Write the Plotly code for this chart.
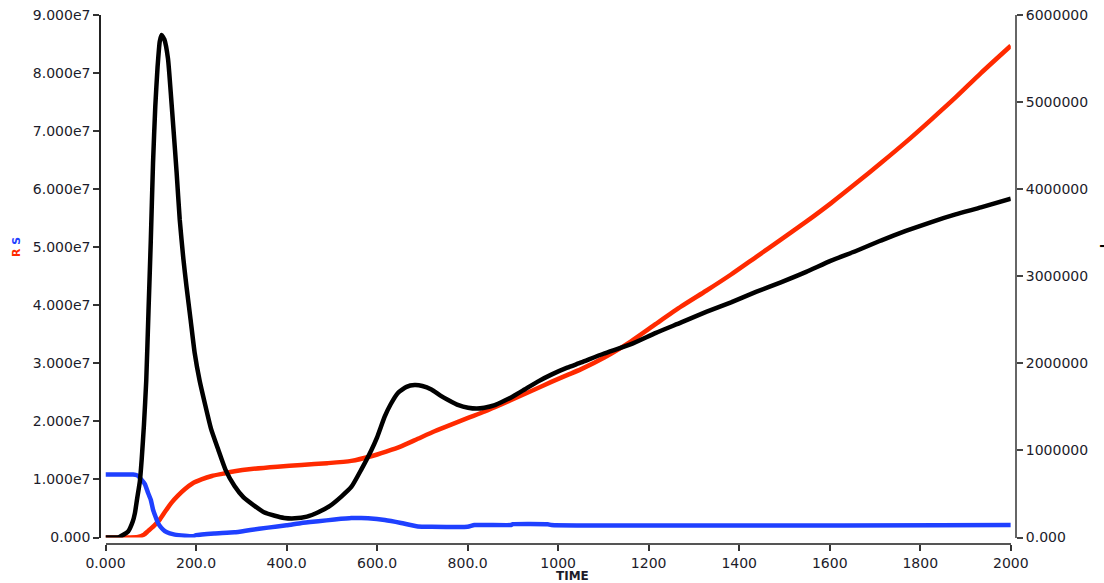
import plotly.graph_objects as go

# ---- data ----
# I (black, right axis)
i_time = [0, 30, 50, 60, 65, 70, 76, 80, 85, 90, 95, 100, 105, 110, 115, 120, 124, 130, 138,
          145, 150, 157, 164, 172, 179, 188, 197, 208, 219, 233, 249, 265, 285, 305, 330, 350,
          374, 395, 418, 445, 470, 495, 521, 543, 565, 587, 600, 617, 630, 646, 665, 683, 700,
          720, 740, 757, 780, 801, 820, 837, 860, 881, 900, 926, 955, 985, 1020, 1051, 1100,
          1161, 1216, 1272, 1327, 1382, 1437, 1492, 1548, 1603, 1658, 1713, 1768, 1823, 1878,
          1934, 2000]
i_vals = [0, 5e3, 7e4, 1.8e5, 2.8e5, 4.5e5, 6.5e5, 9e5, 1.3e6, 1.8e6, 2.6e6, 3.4e6, 4.3e6,
          4.95e6, 5.4e6, 5.7e6, 5.77e6, 5.72e6, 5.5e6, 5.05e6, 4.7e6, 4.2e6, 3.65e6, 3.2e6,
          2.88e6, 2.5e6, 2.12e6, 1.8e6, 1.55e6, 1.25e6, 1.01e6, 7.8e5, 5.9e5, 4.6e5, 3.6e5,
          2.9e5, 2.5e5, 2.25e5, 2.2e5, 2.4e5, 2.9e5, 3.6e5, 4.7e5, 5.8e5, 7.8e5, 1.0e6, 1.15e6,
          1.39e6, 1.53e6, 1.66e6, 1.73e6, 1.75e6, 1.74e6, 1.70e6, 1.63e6, 1.58e6, 1.52e6,
          1.49e6, 1.48e6, 1.49e6, 1.52e6, 1.57e6, 1.62e6, 1.70e6, 1.79e6, 1.87e6, 1.95e6,
          2.01e6, 2.11e6, 2.22e6, 2.35e6, 2.47e6, 2.59e6, 2.70e6, 2.82e6, 2.93e6, 3.05e6,
          3.18e6, 3.29e6, 3.41e6, 3.52e6, 3.62e6, 3.71e6, 3.79e6, 3.89e6]

# R (red, left axis)
r_time = [0, 40, 72, 85, 94, 107, 120, 133, 146, 160, 175, 192, 212, 235, 260, 285, 322, 380,
          433, 490, 543, 587, 620, 653, 690, 727, 765, 801, 838, 874, 911, 948, 985, 1021,
          1051, 1102, 1161, 1216, 1272, 1327, 1382, 1437, 1492, 1548, 1603, 1658, 1713, 1768,
          1823, 1878, 1934, 2000]
r_vals = [0, 0, 1e5, 5e5, 1.1e6, 2.0e6, 3.1e6, 4.6e6, 6.0e6, 7.2e6, 8.3e6, 9.3e6, 1.0e7,
          1.06e7, 1.1e7, 1.14e7, 1.18e7, 1.22e7, 1.25e7, 1.28e7, 1.32e7, 1.40e7, 1.48e7,
          1.57e7, 1.70e7, 1.83e7, 1.95e7, 2.06e7, 2.17e7, 2.29e7, 2.42e7, 2.55e7, 2.68e7,
          2.80e7, 2.90e7, 3.10e7, 3.38e7, 3.68e7, 3.98e7, 4.25e7, 4.53e7, 4.83e7, 5.13e7,
          5.44e7, 5.76e7, 6.10e7, 6.45e7, 6.81e7, 7.19e7, 7.58e7, 8.0e7, 8.47e7]

# S (blue, left axis)
s_time = [0, 61, 70, 79, 87, 94, 100, 105, 110, 116, 123, 131, 142, 153, 175, 193, 200, 240,
          285, 320, 359, 400, 433, 470, 506, 543, 565, 580, 617, 653, 690, 720, 800, 815, 896,
          900, 977, 985, 2000]
s_vals = [1.085e7, 1.085e7, 1.07e7, 1.0e7, 9.2e6, 7.7e6, 6.5e6, 4.8e6, 3.7e6, 2.5e6, 1.7e6,
          1.1e6, 7e5, 5e5, 3e5, 2e5, 4e5, 7e5, 9e5, 1.3e6, 1.7e6, 2.1e6, 2.5e6, 2.8e6, 3.1e6,
          3.35e6, 3.35e6, 3.3e6, 3.0e6, 2.5e6, 1.9e6, 1.85e6, 1.85e6, 2.15e6, 2.15e6, 2.3e6,
          2.3e6, 2.15e6, 2.15e6]

x_tickvals = [0, 200, 400, 600, 800, 1000, 1200, 1400, 1600, 1800, 2000]
x_ticktext = ["0.000", "200.0", "400.0", "600.0", "800.0", "1000", "1200", "1400", "1600",
              "1800", "2000"]
yl_tickvals = [0, 1e7, 2e7, 3e7, 4e7, 5e7, 6e7, 7e7, 8e7, 9e7]
yl_ticktext = ["0.000", "1.000e7", "2.000e7", "3.000e7", "4.000e7", "5.000e7", "6.000e7",
               "7.000e7", "8.000e7", "9.000e7"]
yr_tickvals = [0, 1e6, 2e6, 3e6, 4e6, 5e6, 6e6]
yr_ticktext = ["0.000", "1000000", "2000000", "3000000", "4000000", "5000000", "6000000"]

RED = "#ff2a00"
BLUE = "#1f40ff"
BLACK = "#000000"
TXT = "#1c1c2a"
FONT = "DejaVu Sans"

fig = go.Figure()
fig.add_trace(go.Scatter(x=r_time, y=r_vals, mode="lines", name="R",
                         line=dict(color=RED, width=4.5, shape="spline", smoothing=0.6),
                         yaxis="y"))
fig.add_trace(go.Scatter(x=s_time, y=s_vals, mode="lines", name="S",
                         line=dict(color=BLUE, width=4.5, shape="spline", smoothing=0.4),
                         yaxis="y"))
fig.add_trace(go.Scatter(x=i_time, y=i_vals, mode="lines", name="I",
                         line=dict(color=BLACK, width=4.5, shape="spline", smoothing=0.5),
                         yaxis="y2"))

W, H = 1104, 583
L_AX, R_AX, TOP, XLINE = 100, 1016, 15, 544
plot_w = R_AX - L_AX
plot_h = XLINE - TOP
x0_px, x1_px = 105.5, 1010.8
y0_px = 537.5

fig.update_layout(
    width=W, height=H,
    margin=dict(l=L_AX, r=W - R_AX, t=TOP, b=H - XLINE, pad=0, autoexpand=False),
    paper_bgcolor="white", plot_bgcolor="white",
    showlegend=False,
    font=dict(family=FONT, size=14, color=TXT),
    xaxis=dict(
        domain=[(x0_px - L_AX) / plot_w, (x1_px - L_AX) / plot_w],
        range=[0, 2000], anchor="free", position=0,
        tickvals=x_tickvals, ticktext=x_ticktext,
        showline=True, linecolor="#555555", linewidth=1.5,
        ticks="outside", ticklen=6, tickwidth=1.5, tickcolor="#333333",
        showgrid=False, zeroline=False, automargin=False,
        tickfont=dict(family=FONT, size=14, color=TXT),
    ),
    yaxis=dict(
        domain=[(XLINE - y0_px) / plot_h, 1],
        range=[0, 9e7], anchor="free", position=0,
        tickvals=yl_tickvals, ticktext=yl_ticktext,
        showline=True, linecolor="#222222", linewidth=1.5,
        ticks="outside", ticklen=6, tickwidth=1.5, tickcolor="#333333",
        showgrid=False, zeroline=False, automargin=False,
        tickfont=dict(family=FONT, size=14, color=TXT),
    ),
    yaxis2=dict(
        domain=[(XLINE - y0_px) / plot_h, 1],
        range=[0, 6e6], anchor="free", position=1, overlaying="y", side="right",
        tickvals=yr_tickvals, ticktext=yr_ticktext,
        showline=True, linecolor="#666666", linewidth=2,
        ticks="outside", ticklen=6, tickwidth=1.5, tickcolor="#444444",
        showgrid=False, zeroline=False, automargin=False,
        tickfont=dict(family=FONT, size=14, color=TXT),
    ),
)

# axis titles as annotations (positions in pixels converted to paper coords)
def px_x(px):
    return (px - L_AX) / plot_w

def px_y(py):
    return (XLINE - py) / plot_h

fig.add_annotation(
    text="<b>TIME</b>", x=px_x(572), y=px_y(576), xref="paper", yref="paper",
    showarrow=False, font=dict(family=FONT, size=12, color=TXT),
    xanchor="center", yanchor="middle")
fig.add_annotation(
    text=f"<b><span style='color:{RED}'>R</span> <span style='color:{BLUE}'>S</span></b>",
    x=px_x(17), y=px_y(247), xref="paper", yref="paper", textangle=-90,
    showarrow=False, font=dict(family=FONT, size=11),
    xanchor="center", yanchor="middle")
fig.add_annotation(
    text="<b>I</b>", x=px_x(1103), y=px_y(246), xref="paper", yref="paper", textangle=90,
    showarrow=False, font=dict(family=FONT, size=11, color=BLACK),
    xanchor="center", yanchor="middle")

fig.write_html("out.html",
               config={"displayModeBar": False},
               post_script="document.body.style.margin='0';document.body.style.overflow='hidden';")
